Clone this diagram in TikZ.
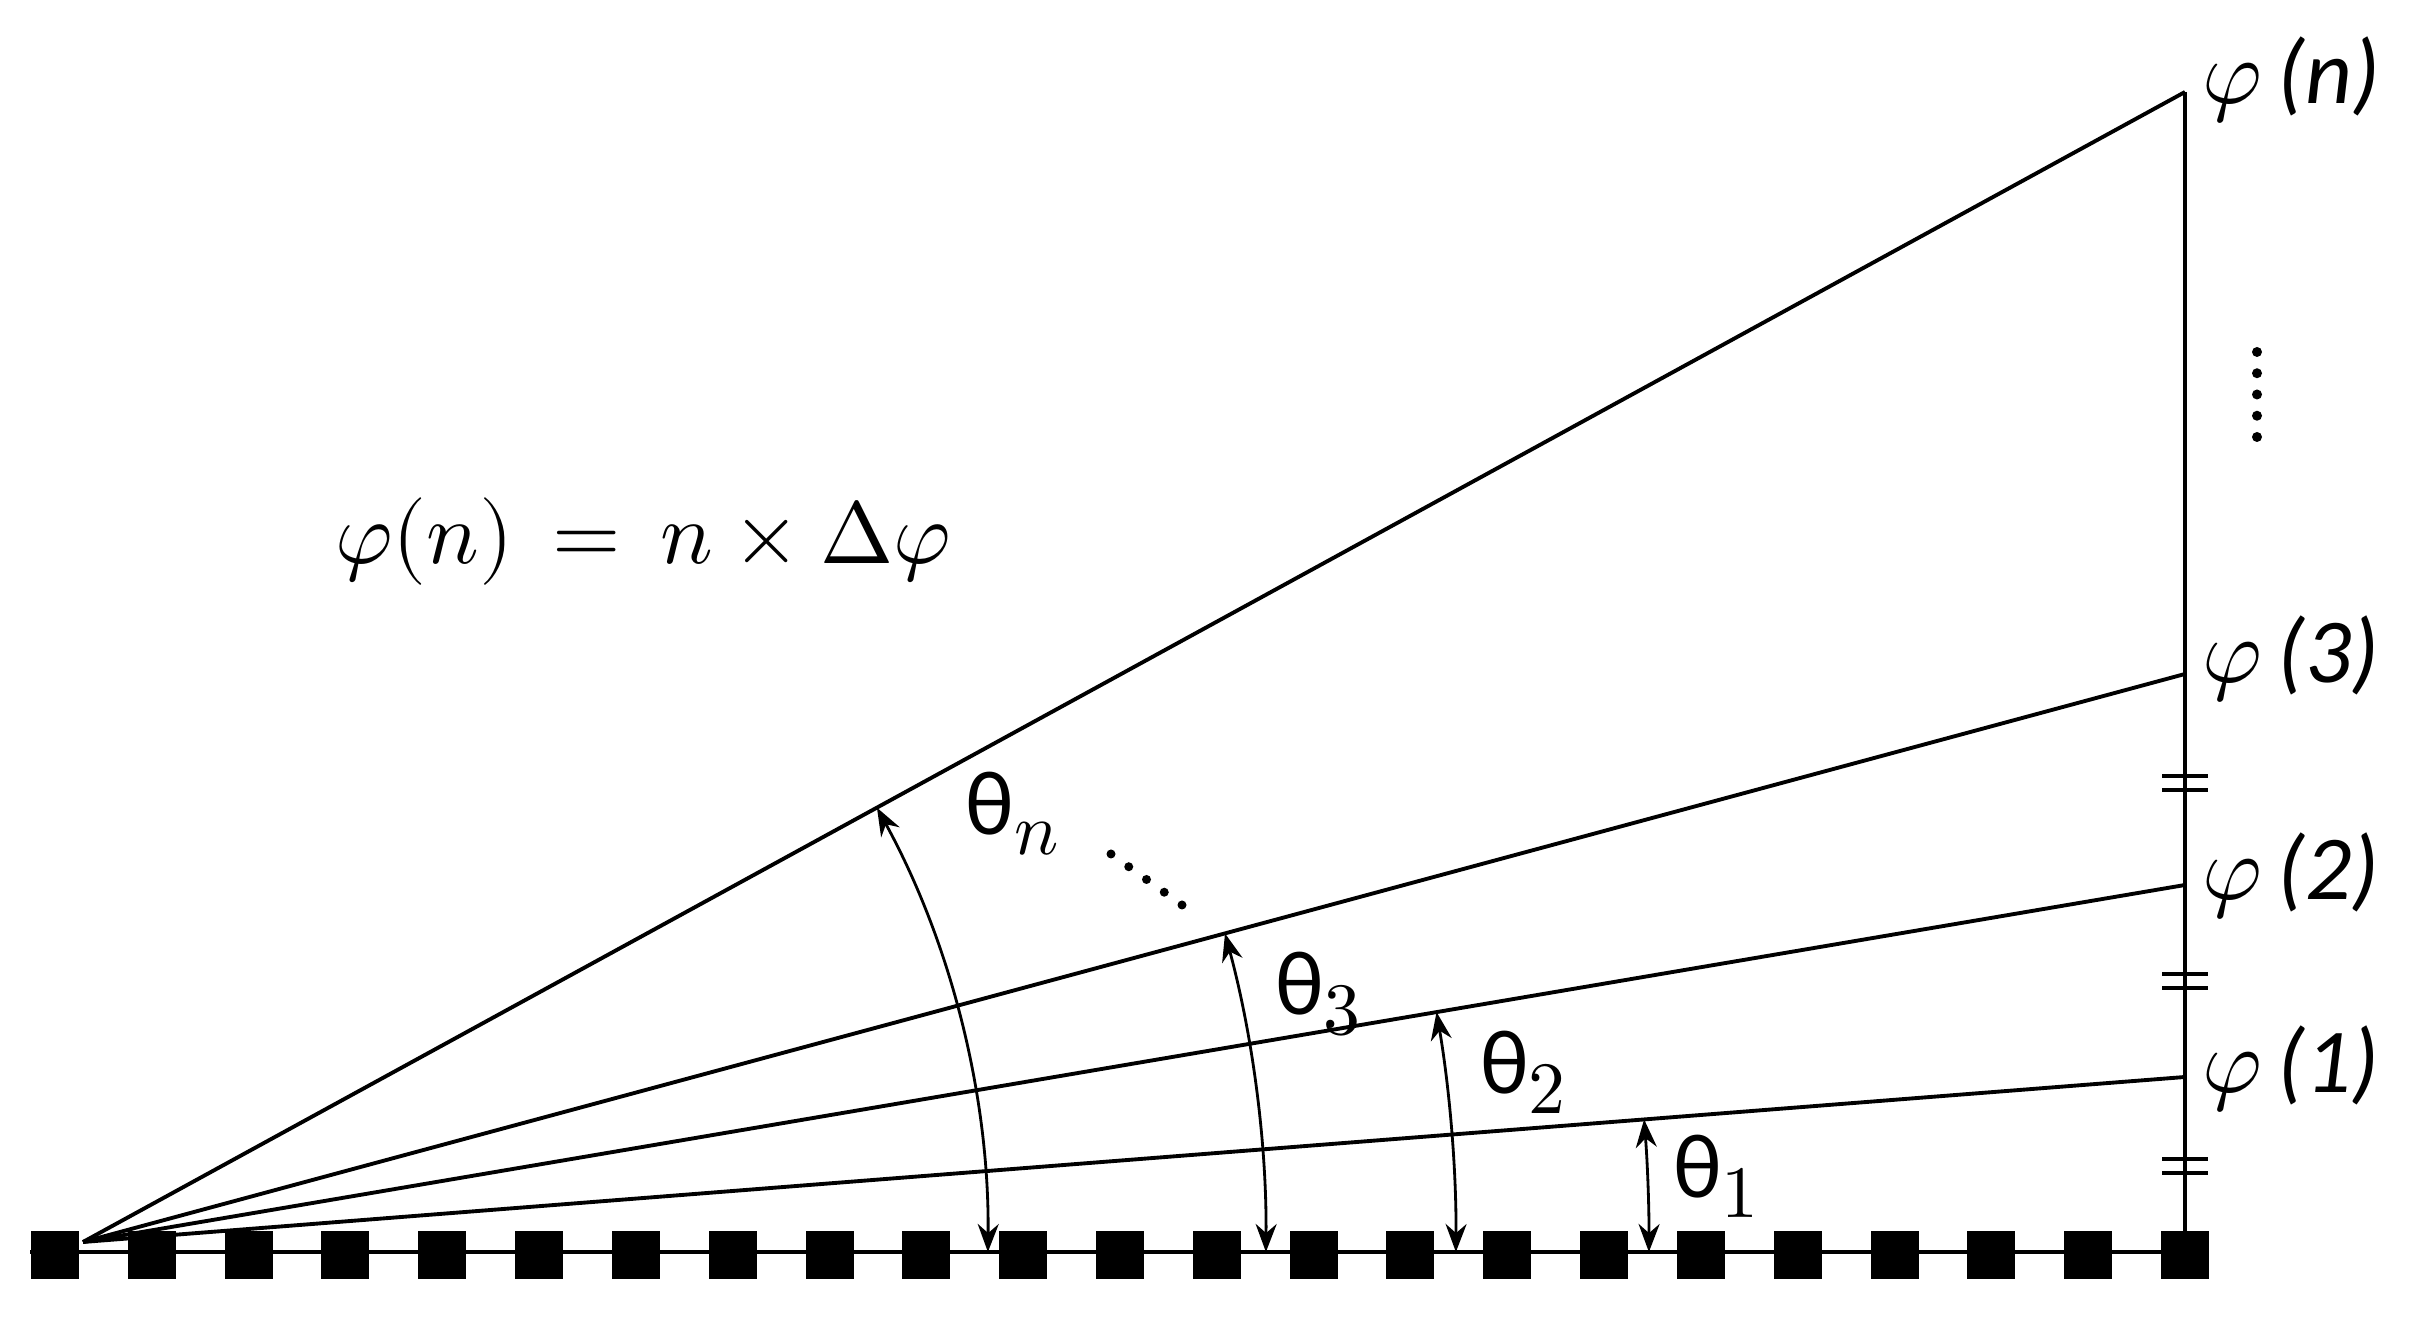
\documentclass[tikz,border=0pt]{standalone}
\usepackage{fontspec}
\usepackage{unicode-math}
\setmathfont{Latin Modern Math}
\newfontfamily\carl{Carlito}
\usetikzlibrary{arrows.meta}
\newcommand{\thsub}[1]{{\carl θ}\raisebox{-0.5ex}{\fontsize{21}{24}\selectfont$#1$}}
\tikzset{
  ray/.style={line width=1.1pt},
  tickline/.style={line width=0.9pt},
  anglearc/.style={line width=0.8pt,{Stealth[length=2.8mm,width=2.1mm]}-{Stealth[length=2.8mm,width=2.1mm]}},
  sqbox/.style={fill=black},
  philbl/.style={inner sep=0pt,anchor=west,font=\fontsize{26}{30}\selectfont},
  thlbl/.style={inner sep=0pt,font=\fontsize{26}{30}\selectfont},
  eqlbl/.style={inner sep=0pt,font=\fontsize{25}{29}\selectfont}
}
\begin{document}
\begin{tikzpicture}[x=0.1mm,y=0.1mm]
\useasboundingbox (0,0) rectangle (2430,1324);
% base line and squares
\coordinate (b0) at (30,72);
\coordinate (b1) at (2209,72);
\draw[ray] (b0) -- (b1);
\foreach \i in {0,...,22} \fill[sqbox] ({55+96.82*\i-24},45) rectangle ++(48,48);
% apex and ray ends
\coordinate (apex) at (83,82);
\coordinate (p1) at (2185,247);
\coordinate (p2) at (2185,439);
\coordinate (p3) at (2185,650);
\coordinate (pn) at (2185,1232);
\coordinate (vb) at (2185,72);
\draw[ray] (apex) -- (p1);
\draw[ray] (apex) -- (p2);
\draw[ray] (apex) -- (p3);
\draw[ray] (apex) -- (pn);
\draw[ray] (pn) -- (vb);
% equal ticks
\foreach \yy in {541,343,158} {
  \draw[tickline] (2162,\yy+7) -- (2208,\yy+7);
  \draw[tickline] (2162,\yy-7) -- (2208,\yy-7);
}
% vertical dots
\foreach \k in {0,...,4} \fill (2257,{972-21.25*\k}) circle (5);
% diagonal dots
\foreach \k in {0,...,4} \fill ({1111+17.75*\k},{470-12.75*\k}) circle (4.5);
% angle arcs
\draw[anglearc] (apex) ++(-0.366:1566) arc[start angle=-0.366, end angle=4.488, radius=1566];
\draw[anglearc] (apex) ++(-0.417:1373) arc[start angle=-0.417, end angle=9.64, radius=1373];
\draw[anglearc] (apex) ++(-0.484:1183) arc[start angle=-0.484, end angle=15.12, radius=1183];
\draw[anglearc] (apex) ++(-0.633:905) arc[start angle=-0.633, end angle=28.68, radius=905];
% labels
\node[philbl] (ln) at (2202,1244) {$\varphi$\,{\carl\itshape (n)}};
\node[philbl] (l3) at (2202,665) {$\varphi$\,{\carl\itshape (3)}};
\node[philbl] (l2) at (2202,448) {$\varphi$\,{\carl\itshape (2)}};
\node[philbl] (l1) at (2202,255) {$\varphi$\,{\carl\itshape (1)}};
\node[thlbl] (tn) at (1012,510) {\thsub{n}};
\node[thlbl] (t3) at (1318,330) {\thsub{3}};
\node[thlbl] (t2) at (1523,252) {\thsub{2}};
\node[thlbl] (t1) at (1716,148) {\thsub{1}};
\node[eqlbl] (eq) at (643,782) {$\varphi(n) \,=\, n \times \Delta\varphi$};
\end{tikzpicture}
\end{document}
